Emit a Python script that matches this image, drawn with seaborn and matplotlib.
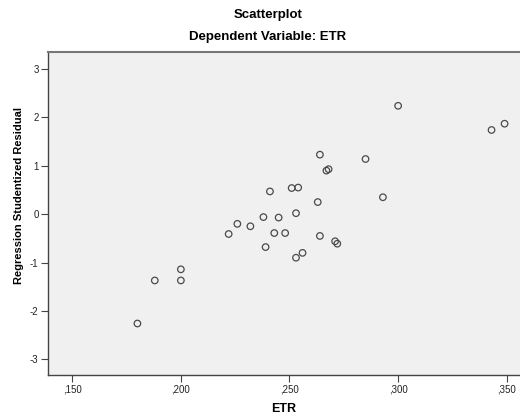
import pandas as pd
import seaborn as sns
import matplotlib
matplotlib.use('Agg')
import matplotlib.pyplot as plt

# valori
etr = [0.180, 0.188, 0.200, 0.200, 0.222, 0.226, 0.232, 0.238, 0.245, 0.253,
       0.239, 0.243, 0.248, 0.253, 0.256, 0.264, 0.271, 0.272, 0.263, 0.300,
       0.343, 0.349, 0.264, 0.285, 0.267, 0.268, 0.241, 0.251, 0.254, 0.293]
residual = [-2.26, -1.37, -1.14, -1.37, -0.41, -0.20, -0.25, -0.06, -0.07, 0.02,
            -0.68, -0.39, -0.39, -0.90, -0.80, -0.45, -0.56, -0.61, 0.25, 2.24,
            1.74, 1.87, 1.23, 1.14, 0.90, 0.93, 0.47, 0.54, 0.55, 0.35]
x_ticks = [0.150, 0.200, 0.250, 0.300, 0.350]
x_tick_labels = [',150', ',200', ',250', ',300', ',350']
y_ticks = [3, 2, 1, 0, -1, -2, -3]

df = pd.DataFrame({'ETR': etr, 'Residual': residual})

sns.set_style('ticks', {'axes.facecolor': '#F0F0F0', 'text.color': 'black',
                        'axes.labelcolor': 'black'})
plt.rcParams['font.family'] = ['Liberation Sans', 'DejaVu Sans']

fig = plt.figure(figsize=(5.2, 4.15), dpi=100)
ax = fig.add_axes([0.0917, 0.0957, 0.9083, 0.779])

sns.scatterplot(data=df, x='ETR', y='Residual', ax=ax, marker='o', s=22,
                facecolor='none', edgecolor='#4a4a4a', linewidth=0.9)

ax.set_xlim(0.1387, 0.3561)
ax.set_ylim(-3.33, 3.352)
ax.set_xticks(x_ticks)
ax.set_xticklabels(x_tick_labels)
ax.set_yticks(y_ticks)
ax.set_yticklabels([str(v) for v in y_ticks])
ax.tick_params(axis='both', labelsize=7, length=5, width=0.8, color='#444444',
               labelcolor='#222222', pad=1.5, direction='out')

for side in ['left', 'bottom']:
    ax.spines[side].set_color('#444444')
    ax.spines[side].set_linewidth(1.0)
ax.spines['top'].set_visible(True)
ax.spines['top'].set_color('#777777')
ax.spines['top'].set_linewidth(1.5)
ax.spines['right'].set_visible(False)

ax.set_xlabel('ETR', fontsize=9, fontweight='bold', labelpad=6)
ax.set_ylabel('Regression Studentized Residual', fontsize=8, fontweight='bold')
ax.yaxis.set_label_coords(-0.05, 0.555)

fig.text(268 / 520, 1 - 15 / 415, 'Scatterplot', ha='center', va='center',
         fontsize=9.5, fontweight='bold', color='black')
fig.text(268 / 520, 1 - 37 / 415, 'Dependent Variable: ETR', ha='center',
         va='center', fontsize=9.5, fontweight='bold', color='black')

fig.savefig('out.png', dpi=100, facecolor='white')
plt.close()
